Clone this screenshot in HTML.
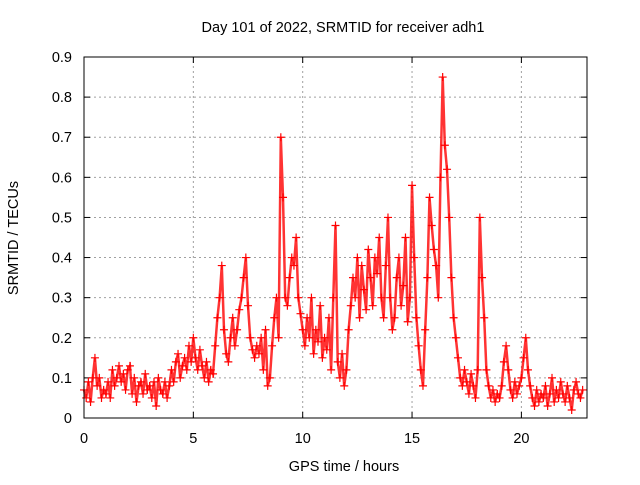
<!DOCTYPE html>
<html><head><meta charset="utf-8"><style>
body{margin:0;background:#fff;}
svg text{font-family:"Liberation Sans",sans-serif;font-size:14.5px;fill:#000;}
</style></head><body>
<svg id="chart" width="640" height="480" xmlns="http://www.w3.org/2000/svg">
<rect width="640" height="480" fill="#fff"/>
<text x="343" y="32" text-anchor="middle">Day 101 of 2022, SRMTID for receiver adh1</text>
<text transform="translate(18,238) rotate(-90)" text-anchor="middle">SRMTID / TECUs</text>
<text x="344" y="471" text-anchor="middle">GPS time / hours</text>
<g id="grid"></g><g id="ticks"></g><g id="line"></g><g id="pts"></g>
<rect x="84" y="57" width="503" height="361" fill="none" stroke="#000" stroke-width="1"/>
</svg>
<script>
const xTicks=[0,5,10,15,20];
const yTicks=[0,0.1,0.2,0.3,0.4,0.5,0.6,0.7,0.8,0.9];
const yTickLabels=["0","0.1","0.2","0.3","0.4","0.5","0.6","0.7","0.8","0.9"];
const tStart=0, tStep=0.1;
const values=[0.07,0.05,0.09,0.04,0.10,0.15,0.08,0.10,0.05,0.07,
0.06,0.09,0.05,0.12,0.08,0.10,0.13,0.09,0.11,0.07,
0.12,0.13,0.06,0.10,0.04,0.08,0.09,0.06,0.11,0.07,
0.08,0.05,0.09,0.03,0.10,0.07,0.06,0.09,0.05,0.08,
0.12,0.09,0.14,0.16,0.10,0.13,0.15,0.12,0.18,0.14,
0.20,0.15,0.12,0.17,0.13,0.10,0.14,0.09,0.12,0.11,
0.18,0.25,0.30,0.38,0.22,0.16,0.14,0.20,0.25,0.18,
0.22,0.27,0.30,0.35,0.40,0.28,0.20,0.17,0.15,0.18,
0.16,0.20,0.12,0.22,0.08,0.10,0.18,0.25,0.30,0.20,
0.70,0.55,0.30,0.28,0.35,0.40,0.38,0.45,0.30,0.26,
0.22,0.18,0.25,0.20,0.30,0.16,0.22,0.19,0.28,0.15,
0.20,0.17,0.25,0.12,0.30,0.48,0.14,0.10,0.16,0.08,
0.12,0.22,0.28,0.35,0.30,0.40,0.25,0.38,0.32,0.27,
0.42,0.35,0.28,0.40,0.36,0.45,0.30,0.25,0.38,0.50,
0.30,0.22,0.25,0.35,0.40,0.28,0.33,0.45,0.24,0.30,
0.58,0.40,0.25,0.18,0.12,0.08,0.22,0.35,0.55,0.48,
0.42,0.38,0.30,0.60,0.85,0.68,0.62,0.50,0.35,0.25,
0.20,0.15,0.10,0.08,0.12,0.09,0.06,0.11,0.08,0.05,
0.12,0.50,0.35,0.25,0.12,0.08,0.05,0.07,0.04,0.06,
0.05,0.08,0.14,0.18,0.12,0.07,0.05,0.09,0.06,0.08,
0.10,0.15,0.20,0.12,0.08,0.05,0.03,0.07,0.04,0.06,
0.05,0.08,0.03,0.06,0.10,0.04,0.07,0.05,0.09,0.06,
0.04,0.08,0.05,0.02,0.07,0.09,0.06,0.05,0.07];
const NS="http://www.w3.org/2000/svg";
const X0=84,X1=587,Y0=418,Y1=57,XMAX=23,YMAX=0.9;
function xs(t){return X0+(X1-X0)*t/XMAX;}
function ys(v){return Y0-(Y0-Y1)*v/YMAX;}
function mk(tag,attrs,parent){const e=document.createElementNS(NS,tag);for(const k in attrs)e.setAttribute(k,attrs[k]);parent.appendChild(e);return e;}
const grid=document.getElementById('grid'),ticks=document.getElementById('ticks');
yTicks.forEach((v,i)=>{
  const y=ys(v);
  if(i>0){const g=mk('line',{x1:X0,x2:X1,y1:y,y2:y,stroke:'#a0a0a0','stroke-dasharray':'2,3','stroke-width':1},grid);
  
  }
  const t=mk('text',{x:72,y:y+5,'text-anchor':'end'},ticks);t.textContent=yTickLabels[i];
  
  
  mk('line',{x1:X0,x2:X0+6,y1:y,y2:y,stroke:'#000'},ticks);
  mk('line',{x1:X1,x2:X1-6,y1:y,y2:y,stroke:'#000'},ticks);
});
xTicks.forEach(v=>{
  const x=xs(v);
  if(v>0){const g=mk('line',{x1:x,x2:x,y1:Y0,y2:Y1,stroke:'#a0a0a0','stroke-dasharray':'2,3'},grid);
  
  }
  const t=mk('text',{x:x,y:443,'text-anchor':'middle'},ticks);t.textContent=String(v);
  
  
  mk('line',{x1:x,x2:x,y1:Y0,y2:Y0-6,stroke:'#000'},ticks);
  mk('line',{x1:x,x2:x,y1:Y1,y2:Y1+6,stroke:'#000'},ticks);
});
const pts=document.getElementById('pts');
let d='';
values.forEach((v,i)=>{
  const x=xs(tStart+i*tStep),y=ys(v);
  d+=(i?'L':'M')+x.toFixed(1)+' '+y.toFixed(1);
  const p=mk('path',{d:`M${x-4} ${y}h8M${x} ${y-4}v8`,stroke:'#f00','stroke-width':1.2},pts);
  
  
});
const ln=mk('path',{d:d,fill:'none',stroke:'#f00','stroke-width':2.5,'stroke-opacity':0.8},document.getElementById('line'));


</script>
</body></html>
